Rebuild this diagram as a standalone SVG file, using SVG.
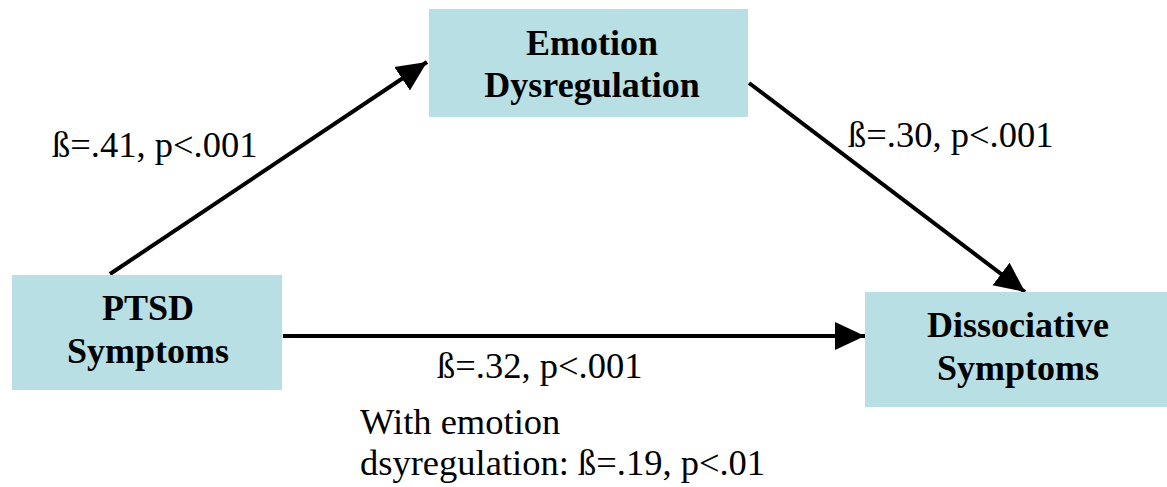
<svg xmlns="http://www.w3.org/2000/svg" width="1167" height="487" viewBox="0 0 1167 487">
<style>
.box{fill:#b8dfe3}
.nt{font-family:"Liberation Serif",serif;font-weight:bold;font-size:36px;fill:#000;text-anchor:middle}
.lb{font-family:"Liberation Serif",serif;font-size:36.5px;fill:#000}
.ln{stroke:#000;stroke-width:4;fill:none}
</style>
<defs>
<marker id="a" viewBox="0 0 10 10" refX="10" refY="5" markerWidth="7.5" markerHeight="7.5" orient="auto">
<path d="M0,0.3 L10,5 L0,9.7 z" fill="#000"/>
</marker>
</defs>
<rect width="1167" height="487" fill="#fff"/>
<g id="connectors">
<line class="ln" x1="110" y1="274" x2="427" y2="62" marker-end="url(#a)"/>
<line class="ln" x1="749" y1="83" x2="1025" y2="292" marker-end="url(#a)"/>
<line class="ln" x1="283" y1="336" x2="865" y2="336" marker-end="url(#a)"/>
</g>
<g id="emotion">
<rect class="box" x="429" y="9" width="319" height="108"/>
<text class="nt" x="592" y="55">Emotion</text>
<text class="nt" x="592" y="97">Dysregulation</text>
</g>
<g id="ptsd">
<rect class="box" x="12" y="275" width="270" height="115"/>
<text class="nt" x="148" y="320">PTSD</text>
<text class="nt" x="148" y="363">Symptoms</text>
</g>
<g id="dissociative">
<rect class="box" x="865" y="292" width="302" height="115"/>
<text class="nt" x="1018" y="337">Dissociative</text>
<text class="nt" x="1018" y="380">Symptoms</text>
</g>
<g id="labels">
<text class="lb" x="52" y="157">ß=.41, p&lt;.001</text>
<text class="lb" x="848" y="147">ß=.30, p&lt;.001</text>
<text class="lb" x="437" y="378">ß=.32, p&lt;.001</text>
<text class="lb" x="360" y="434">With emotion</text>
<text class="lb" x="360" y="475">dsyregulation: ß=.19, p&lt;.01</text>
</g>
</svg>
